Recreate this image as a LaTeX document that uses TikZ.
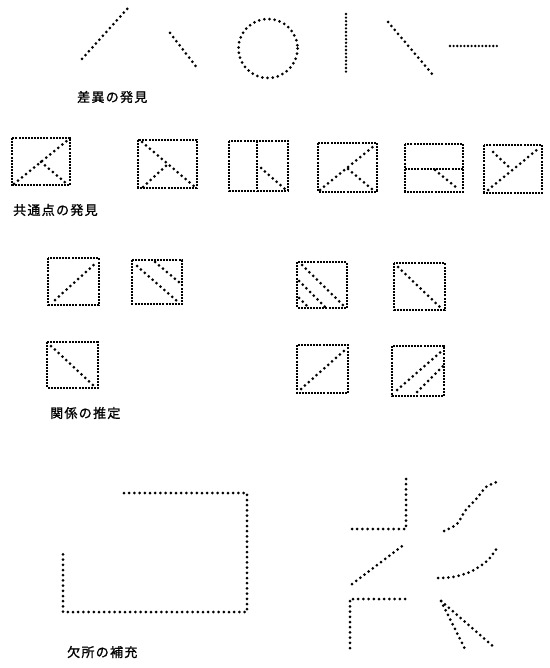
\documentclass[tikz,border=0pt]{standalone}
\usepackage{fontspec}
\newfontfamily\cjk[LetterSpace=10,FakeBold=1.2]{Noto Sans CJK JP}
\tikzset{
  dotline/.style={line width=3pt, dash pattern=on 0pt off 5.2pt, line cap=round},
  denseline/.style={line width=2.6pt, dash pattern=on 0pt off 3.6pt, line cap=round},
  boxline/.style={line width=2.8pt, dash pattern=on 2pt off 1.1pt},
  lbl/.style={font=\cjk\fontsize{13pt}{13pt}\selectfont, anchor=west, inner sep=0pt}
}
\begin{document}
\begin{tikzpicture}[x=1pt,y=-1pt]
\useasboundingbox (0,0) rectangle (549,668);
% ---- row 1: differences
\draw[dotline] (82,59) -- (128,8);
\draw[dotline] (170,33) -- (198,69);
\draw[dotline] (268,48.5) circle (29.5);
\draw[denseline] (346,14) -- (346,75);
\draw[dotline] (388,22) -- (433,75);
\draw[denseline] (450,46) -- (497,46);
\node[lbl] (l1) at (77,97) {差異の発見};
% ---- row 2: common points
\draw[boxline] (12,138) rectangle (70,185);
\draw[dotline] (14,184) -- (68,140);
\draw[dotline] (41,162) -- (67,184);
\draw[boxline] (138,140) rectangle (197,188);
\draw[dotline] (142,142) -- (195,187);
\draw[dotline] (143,187) -- (168,164);
\draw[boxline] (229,141) rectangle (288,191);
\draw[boxline] (257,141) -- (257,191);
\draw[dotline] (261,168) -- (285,189);
\draw[boxline] (318,143) rectangle (377,192);
\draw[dotline] (320,190) -- (375,145);
\draw[dotline] (348,169) -- (373,190);
\draw[boxline] (405,144) rectangle (463,192);
\draw[boxline] (405,169) -- (463,169);
\draw[dotline] (435,170) -- (457,188);
\draw[boxline] (484,145) rectangle (542,193);
\draw[dotline] (488,190) -- (538,149);
\draw[dotline] (493,152) -- (510,168);
\node[lbl] (l2) at (13,210) {共通点の発見};
% ---- block 3: relations
\draw[boxline] (48,258) rectangle (99,305);
\draw[dotline] (55,300) -- (97,262);
\draw[boxline] (132,260) rectangle (182,304);
\draw[dotline] (137,266) -- (178,302);
\draw[dotline] (155,262) -- (180,283);
\draw[boxline] (47,342) rectangle (98,388);
\draw[dotline] (51,346) -- (94,386);
\draw[boxline] (297,262) rectangle (347,308);
\draw[dotline] (302,265) -- (344,306);
\draw[dotline] (299,281) -- (325,307);
\draw[dotline] (299,298) -- (308,307);
\draw[boxline] (394,263) rectangle (445,310);
\draw[dotline] (398,267) -- (442,309);
\draw[boxline] (297,345) rectangle (348,393);
\draw[dotline] (301,389) -- (346,349);
\draw[boxline] (392,346) rectangle (444,396);
\draw[dotline] (397,390) -- (443,350);
\draw[dotline] (417,392) -- (443,366);
\node[lbl] (l3) at (50,413) {関係の推定};
% ---- block 4: completion
\draw[dotline] (124,493) -- (247,493) -- (247,612) -- (63,612) -- (63,553);
\draw[dotline] (352,529) -- (406,529) -- (406,477);
\draw[dotline] (352,584) -- (405,544);
\draw[dotline] (405,599) -- (350,599) -- (350,652);
\draw[dotline] plot[smooth] coordinates {(444,531) (457,524) (465,511) (477,498) (486,487) (497,482)};
\draw[dotline] plot[smooth] coordinates {(438,578) (453,577) (470,572) (487,561) (497,548)};
\coordinate (f) at (441,601);
\draw[dotline] (f) -- (466,651);
\draw[dotline] (f) -- (494,647);
\node[lbl] (l4) at (67,652) {欠所の補充};
\end{tikzpicture}
\end{document}
